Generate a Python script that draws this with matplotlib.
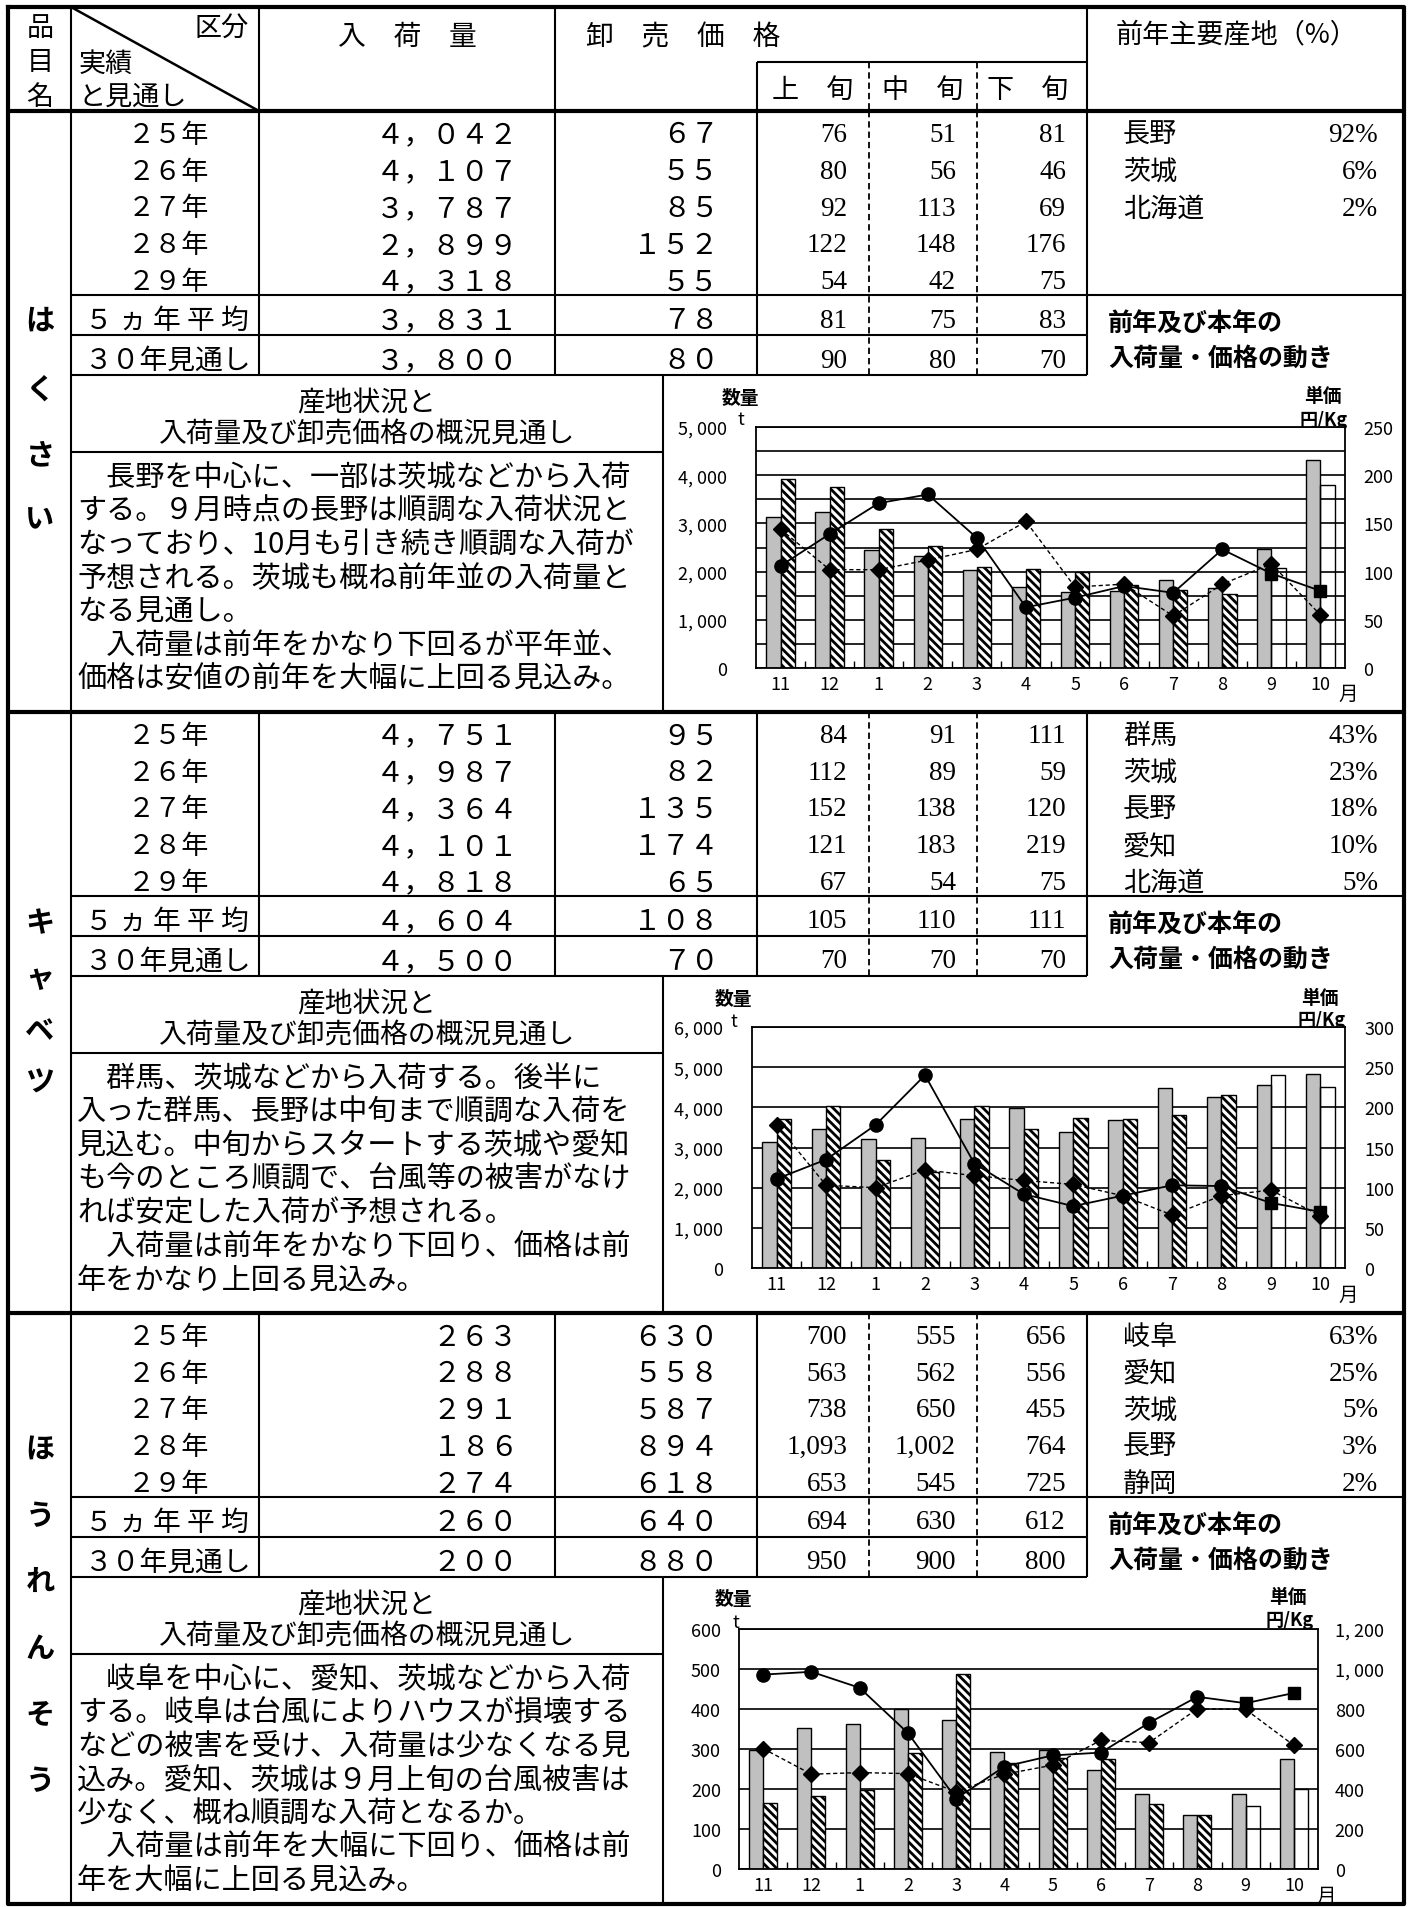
import matplotlib
matplotlib.use('Agg')
import matplotlib.pyplot as plt
from matplotlib.ticker import MultipleLocator, FuncFormatter, FixedLocator
import numpy as np

plt.rcParams['font.family'] = ['Noto Sans CJK JP', 'DejaVu Sans']
plt.rcParams['hatch.linewidth'] = 2.0
JP = ['Noto Sans CJK JP', 'DejaVu Sans']
SERIF = ['Liberation Serif', 'DejaVu Serif']

# ------------------------------------------------------------------ data
MONTHS = ['11', '12', '1', '2', '3', '4', '5', '6', '7', '8', '9', '10']
YEARS = ['２５年', '２６年', '２７年', '２８年', '２９年']
ROW_AVG = '５ ヵ 年 平 均'
ROW_FC = '３０年見通し'
ITEM_NAMES = ['はくさい', 'キャベツ', 'ほうれんそう']

# はくさい
hakusai_volume = [4042, 4107, 3787, 2899, 4318]
hakusai_volume_avg = 3831
hakusai_volume_fc = 3800
hakusai_price = [67, 55, 85, 152, 55]
hakusai_price_avg = 78
hakusai_price_fc = 80
hakusai_jun = [[76, 51, 81], [80, 56, 46], [92, 113, 69], [122, 148, 176], [54, 42, 75]]
hakusai_jun_avg = [81, 75, 83]
hakusai_jun_fc = [90, 80, 70]
hakusai_origin = ['長野', '茨城', '北海道']
hakusai_origin_pct = [92, 6, 2]
hakusai_text = [
    '　長野を中心に、一部は茨城などから入荷',
    'する。９月時点の長野は順調な入荷状況と',
    'なっており、10月も引き続き順調な入荷が',
    '予想される。茨城も概ね前年並の入荷量と',
    'なる見通し。',
    '　入荷量は前年をかなり下回るが平年並、',
    '価格は安値の前年を大幅に上回る見込み。',
]
hakusai_vol_prev = [3126, 3243, 2448, 2331, 2040, 1674, 1577, 1600, 1833, 1660, 2476, 4318]
hakusai_vol_cur = [3921, 3755, 2891, 2531, 2095, 2061, 1985, 1729, 1625, 1535]
hakusai_vol_fc = [2075, 3800]
hakusai_pr_prev = [144, 102, 102, 112, 123, 152, 84, 87, 54, 87, 108, 55]
hakusai_pr_cur = [106, 139, 171, 180, 135, 63, 73, 85, 78, 123]
hakusai_pr_fc = [98, 80]

# キャベツ
cabbage_volume = [4751, 4987, 4364, 4101, 4818]
cabbage_volume_avg = 4604
cabbage_volume_fc = 4500
cabbage_price = [95, 82, 135, 174, 65]
cabbage_price_avg = 108
cabbage_price_fc = 70
cabbage_jun = [[84, 91, 111], [112, 89, 59], [152, 138, 120], [121, 183, 219], [67, 54, 75]]
cabbage_jun_avg = [105, 110, 111]
cabbage_jun_fc = [70, 70, 70]
cabbage_origin = ['群馬', '茨城', '長野', '愛知', '北海道']
cabbage_origin_pct = [43, 23, 18, 10, 5]
cabbage_text = [
    '　群馬、茨城などから入荷する。後半に',
    '入った群馬、長野は中旬まで順調な入荷を',
    '見込む。中旬からスタートする茨城や愛知',
    'も今のところ順調で、台風等の被害がなけ',
    'れば安定した入荷が予想される。',
    '　入荷量は前年をかなり下回り、価格は前',
    '年をかなり上回る見込み。',
]
cabbage_vol_prev = [3129, 3452, 3220, 3245, 3710, 3992, 3386, 3676, 4481, 4257, 4548, 4818]
cabbage_vol_cur = [3710, 4025, 2697, 2390, 4025, 3452, 3734, 3701, 3801, 4315]
cabbage_vol_fc = [4813, 4500]
cabbage_pr_prev = [178, 103, 100, 122, 115, 109, 104, 90, 66, 90, 97, 65]
cabbage_pr_cur = [111, 135, 178, 240, 130, 92, 77, 90, 103, 102]
cabbage_pr_fc = [81, 70]

# ほうれんそう
spinach_volume = [263, 288, 291, 186, 274]
spinach_volume_avg = 260
spinach_volume_fc = 200
spinach_price = [630, 558, 587, 894, 618]
spinach_price_avg = 640
spinach_price_fc = 880
spinach_jun = [[700, 555, 656], [563, 562, 556], [738, 650, 455], [1093, 1002, 764], [653, 545, 725]]
spinach_jun_avg = [694, 630, 612]
spinach_jun_fc = [950, 900, 800]
spinach_origin = ['岐阜', '愛知', '茨城', '長野', '静岡']
spinach_origin_pct = [63, 25, 5, 3, 2]
spinach_text = [
    '　岐阜を中心に、愛知、茨城などから入荷',
    'する。岐阜は台風によりハウスが損壊する',
    'などの被害を受け、入荷量は少なくなる見',
    '込み。愛知、茨城は９月上旬の台風被害は',
    '少なく、概ね順調な入荷となるか。',
    '　入荷量は前年を大幅に下回り、価格は前',
    '年を大幅に上回る見込み。',
]
spinach_vol_prev = [297, 353, 363, 401, 372, 293, 298, 247, 187, 136, 187, 274]
spinach_vol_cur = [164, 183, 197, 289, 488, 265, 278, 276, 162, 136]
spinach_vol_fc = [157, 200]
spinach_pr_prev = [602, 474, 482, 477, 386, 474, 519, 643, 632, 801, 798, 618]
spinach_pr_cur = [972, 986, 906, 680, 352, 512, 568, 582, 731, 861]
spinach_pr_fc = [829, 880]

# ------------------------------------------------------------------ layout
W, H = 1414, 1908
fig = plt.figure(figsize=(W / 100, H / 100), dpi=100)
bg = fig.add_axes([0, 0, 1, 1])
bg.set_xlim(0, W)
bg.set_ylim(H, 0)
bg.axis('off')

THIN = 1.5
THICK = 3.0
XL, XR, YT, YB = 8, 1404, 8, 1905
C_NAME, C_KUBUN, C_VOL, C_J1, C_J2, C_J3, C_ORIG, C_BOX = 71, 259, 555, 757, 869, 977, 1087, 663
HDR_SUB, HDR_BOT = 63, 112
SEC_TOPS = [112, 713, 1314]
SEC_H = 601
ROW_H = 36.8


def hline(y, x0, x1, lw=THIN, ls='-'):
    bg.plot([x0, x1], [y, y], color='black', lw=lw, ls=ls, solid_capstyle='butt')


def vline(x, y0, y1, lw=THIN, ls='-'):
    if ls == '--':
        bg.plot([x, x], [y0, y1], color='black', lw=1.3, dashes=(3.5, 2.2))
    else:
        bg.plot([x, x], [y0, y1], color='black', lw=lw, solid_capstyle='butt')


def txt(x, y, s, size=20, ha='left', va='center', family=JP, weight='normal'):
    bg.text(x, y, s, fontsize=size, ha=ha, va=va, family=family, weight=weight)


FW = str.maketrans('0123456789,', '０１２３４５６７８９，')


def fw(n):
    return f'{n:,}'.translate(FW)


def tick_fmt(v, p):
    return f'{int(v):,}'.replace(',', ', ')


# header
vline(C_KUBUN, YT, HDR_BOT)
vline(C_VOL, YT, HDR_BOT)
vline(C_ORIG, YT, HDR_BOT)
vline(C_J1, HDR_SUB, HDR_BOT)
vline(C_J2, HDR_SUB, HDR_BOT, ls='--')
vline(C_J3, HDR_SUB, HDR_BOT, ls='--')
hline(HDR_SUB, C_J1, C_ORIG)
bg.plot([C_NAME, C_KUBUN], [YT, HDR_BOT], color='black', lw=1.8)
hline(HDR_BOT, XL, XR, THICK)
vline(C_NAME, YT, YB)

for ch, yy in zip('品目名', [29, 63, 97]):
    txt(40, yy, ch, 19.5, ha='center')
txt(249, 29, '区分', 19.5, ha='right')
txt(79, 64, '実績', 19.5)
txt(79, 97, 'と見通し', 19.5)
txt(407, 37, '入　荷　量', 20, ha='center')
txt(586, 37, '卸　売　価　格', 20)
txt(813, 90, '上　旬', 19.5, ha='center')
txt(923, 90, '中　旬', 19.5, ha='center')
txt(1028, 90, '下　旬', 19.5, ha='center')
txt(1237, 35, '前年主要産地（%）', 19.5, ha='center')

# sections
ITEMS = [
    (hakusai_volume, hakusai_volume_avg, hakusai_volume_fc, hakusai_price, hakusai_price_avg,
     hakusai_price_fc, hakusai_jun, hakusai_jun_avg, hakusai_jun_fc, hakusai_origin,
     hakusai_origin_pct, hakusai_text),
    (cabbage_volume, cabbage_volume_avg, cabbage_volume_fc, cabbage_price, cabbage_price_avg,
     cabbage_price_fc, cabbage_jun, cabbage_jun_avg, cabbage_jun_fc, cabbage_origin,
     cabbage_origin_pct, cabbage_text),
    (spinach_volume, spinach_volume_avg, spinach_volume_fc, spinach_price, spinach_price_avg,
     spinach_price_fc, spinach_jun, spinach_jun_avg, spinach_jun_fc, spinach_origin,
     spinach_origin_pct, spinach_text),
]
NAME_Y = [[321, 390, 455, 519], [923, 978, 1031, 1083], [1450, 1516, 1582, 1649, 1715, 1781]]

for i, st in enumerate(SEC_TOPS):
    (vol, vol_avg, vol_fc, pr, pr_avg, pr_fc, jun, jun_avg, jun_fc, org, org_pct, para) = ITEMS[i]
    sb = st + SEC_H if i < 2 else YB
    hline(st + 184, C_NAME, XR)
    hline(st + 224, C_NAME, C_ORIG)
    hline(st + 264, C_NAME, C_ORIG)
    hline(st + 341, C_NAME, C_BOX)
    for cx in (C_KUBUN, C_VOL, C_J1, C_ORIG):
        vline(cx, st, st + 264)
    vline(C_J2, st, st + 264, ls='--')
    vline(C_J3, st, st + 264, ls='--')
    vline(C_BOX, st + 264, sb)
    if i < 2:
        hline(sb, XL, XR, THICK)

    for ch, yy in zip(ITEM_NAMES[i], NAME_Y[i]):
        txt(40, yy, ch, 21, ha='center', weight='bold')

    ys = [st + 18.4 + ROW_H * k for k in range(5)] + [st + 204, st + 244]
    labels = YEARS + [ROW_AVG, ROW_FC]
    vols = vol + [vol_avg, vol_fc]
    prs = pr + [pr_avg, pr_fc]
    juns = jun + [jun_avg, jun_fc]
    for k, yy in enumerate(ys):
        if k < 5:
            txt(168, yy + 5, labels[k], 19.5, ha='center')
        else:
            txt(85, yy + 5, labels[k], 20)
        txt(518, yy + 5, fw(vols[k]), 20.5, ha='right')
        txt(719, yy + 5, fw(prs[k]), 20.5, ha='right')
        for xr, v in zip((847, 956, 1066), juns[k]):
            txt(xr, yy + 5, f'{v:,}', 19.5, ha='right', family=SERIF)
    for k, (o, p) in enumerate(zip(org, org_pct)):
        txt(1123, ys[k] + 5, o, 19.5)
        txt(1378, ys[k] + 5, f'{p}%', 19.5, ha='right', family=SERIF)
    txt(1108, st + 213, '前年及び本年の', 18, weight='bold')
    txt(1108, st + 247, '入荷量・価格の動き', 18, weight='bold')

    txt(367, st + 291, '産地状況と', 20, ha='center')
    txt(367, st + 322, '入荷量及び卸売価格の概況見通し', 20, ha='center')
    for k, line in enumerate(para):
        txt(77, st + 366 + 33.6 * k, line, 21)

# outer border
bg.plot([XL, XR, XR, XL, XL], [YT, YT, YB, YB, YT], color='black', lw=THICK)


# ------------------------------------------------------------------ charts
def draw_chart(rect, vol_prev, vol_cur, vol_fc, pr_prev, pr_cur, pr_fc,
               vmax, vgrid, vstep, pmax, pstep, lpad, rpad, lab):
    l, r, t, b = rect
    ax = fig.add_axes([l / W, 1 - b / H, (r - l) / W, (b - t) / H])
    x = np.arange(len(MONTHS))
    w = 0.29
    n = len(vol_cur)
    ax.bar(x - w / 2, vol_prev, w, color='#c0c0c0', edgecolor='black', lw=1.0, zorder=2)
    ax.bar(x[:n] + w / 2, vol_cur, w, color='white', edgecolor='black', hatch='\\\\\\\\',
           lw=1.0, zorder=2)
    ax.bar(x[n:] + w / 2, vol_fc, w, fill=False, edgecolor='black', lw=1.0, zorder=2)
    ax.set_xlim(-0.5, len(MONTHS) - 0.5)
    ax.set_ylim(0, vmax)
    ax.yaxis.set_major_locator(MultipleLocator(vstep))
    ax.yaxis.set_minor_locator(MultipleLocator(vgrid))
    ax.yaxis.set_major_formatter(FuncFormatter(tick_fmt))
    ax.grid(axis='y', which='both', color='black', lw=1.2)
    ax.set_axisbelow(True)
    ax.tick_params(axis='y', which='both', length=0, labelsize=13, pad=lpad)
    ax.set_xticks(x)
    ax.set_xticklabels(MONTHS)
    ax.xaxis.set_minor_locator(FixedLocator(x[:-1] + 0.5))
    ax.tick_params(axis='x', which='major', length=0, labelsize=13, pad=5)
    ax.tick_params(axis='x', which='minor', direction='in', length=5, width=1.0)
    for s in ax.spines.values():
        s.set_linewidth(1.3)

    ax2 = ax.twinx()
    ax2.set_ylim(0, pmax)
    ax2.yaxis.set_major_locator(MultipleLocator(pstep))
    ax2.yaxis.set_major_formatter(FuncFormatter(tick_fmt))
    ax2.tick_params(axis='y', length=0, labelsize=13, pad=rpad)
    for s in ax2.spines.values():
        s.set_visible(False)
    ax2.plot(x, pr_prev, color='black', lw=1.0, dashes=(3, 2), marker='D', ms=8,
             zorder=4)
    ax2.plot(x, list(pr_cur) + list(pr_fc), color='black', lw=1.3, zorder=4)
    ax2.plot(x[:n], pr_cur, 'o', color='black', ms=9.5, zorder=5)
    ax2.plot(x[n:], pr_fc, 's', color='black', ms=8.5, zorder=5)

    (qx, qy), (tx, ty), (ux, uy), (kx, ky), (mx, my) = lab
    txt(qx, qy, '数量', 13.5, ha='center', weight='bold')
    txt(tx, ty, 't', 13, ha='center')
    txt(ux, uy, '単価', 13.5, ha='center', weight='bold')
    txt(kx, ky, '円/Kg', 13, ha='center', weight='bold')
    txt(mx, my, '月', 14, ha='center')


draw_chart((756, 1345, 428, 669), hakusai_vol_prev, hakusai_vol_cur, hakusai_vol_fc,
           hakusai_pr_prev, hakusai_pr_cur, hakusai_pr_fc,
           5000, 500, 1000, 250, 50, 21, 13,
           [(740, 398), (741, 420), (1323, 397), (1324, 420), (1348, 694)])
draw_chart((752, 1345, 1028, 1269), cabbage_vol_prev, cabbage_vol_cur, cabbage_vol_fc,
           cabbage_pr_prev, cabbage_pr_cur, cabbage_pr_fc,
           6000, 1000, 1000, 300, 50, 21, 14,
           [(733, 1000), (734, 1022), (1320, 999), (1322, 1021), (1348, 1295)])
draw_chart((739, 1318, 1630, 1870), spinach_vol_prev, spinach_vol_cur, spinach_vol_fc,
           spinach_pr_prev, spinach_pr_cur, spinach_pr_fc,
           600, 100, 100, 1200, 200, 13, 12,
           [(733, 1600), (736, 1623), (1288, 1598), (1290, 1621), (1326, 1896)])

fig.savefig('out.png', dpi=100)
